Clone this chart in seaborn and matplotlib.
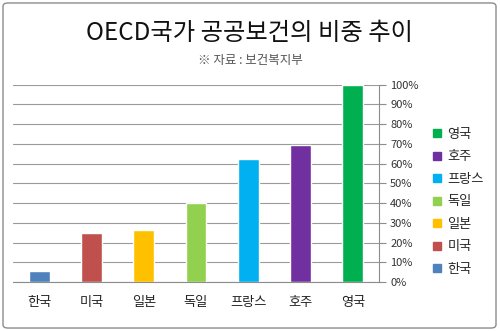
import matplotlib
matplotlib.use("Agg")
import matplotlib.pyplot as plt
import seaborn as sns
import pandas as pd
from matplotlib.lines import Line2D
from matplotlib.patches import FancyBboxPatch
from matplotlib.ticker import FuncFormatter, MultipleLocator

# Share of public health spending by country (%)
countries = ["한국", "미국", "일본", "독일", "프랑스", "호주", "영국"]
shares = [5.4, 24.7, 26.2, 40.0, 62.3, 69.6, 100.0]
colors = ["#4F81BD", "#C0504D", "#FFC000", "#92D050", "#00B0F0", "#7030A0", "#00B050"]
title = "OECD국가 공공보건의 비중 추이"
subtitle = "※ 자료 : 보건복지부"

sns.set_style("white")
plt.rcParams["font.family"] = ["Noto Sans CJK KR", "DejaVu Sans"]

df = pd.DataFrame({"country": countries, "share": shares})

fig = plt.figure(figsize=(5, 3.31), dpi=100)
ax = fig.add_axes([0.026, 0.148, 0.732, 0.596])

sns.barplot(data=df, x="country", y="share", hue="country", order=countries,
            hue_order=countries, palette=colors, width=0.4, dodge=False,
            legend=False, saturation=1, ax=ax)

ax.set_ylim(0, 100)
ax.set_xlim(-0.5, len(countries) - 0.5)
ax.yaxis.set_major_locator(MultipleLocator(10))
ax.yaxis.set_major_formatter(FuncFormatter(lambda v, _: f"{v:.0f}%"))
ax.yaxis.tick_right()
ax.set_xlabel("")
ax.set_ylabel("")
ax.grid(axis="y", color="#9a9a9a", linewidth=0.8)
ax.set_axisbelow(True)

for side in ["top", "left"]:
    ax.spines[side].set_visible(False)
for side in ["right", "bottom"]:
    ax.spines[side].set_color("#8c8c8c")
    ax.spines[side].set_linewidth(0.8)

# Category separators as ticks on the x axis
ax.set_xticks(range(len(countries)))
ax.set_xticklabels(countries, fontsize=9.5, color="#222222")
ax.tick_params(axis="x", length=0, pad=10)
ax.set_xticks([i - 0.5 for i in range(len(countries) + 1)], minor=True)
ax.tick_params(axis="x", which="minor", length=5, color="#8c8c8c", width=0.8)
ax.tick_params(axis="y", which="major", right=True, length=5, color="#8c8c8c",
               width=0.8, labelsize=8, labelcolor="#333333", pad=3)

# Legend listed from the tallest bar down
handles = [Line2D([0], [0], marker="s", linestyle="", markersize=6,
                  markerfacecolor=c, markeredgecolor=c)
           for c in colors[::-1]]
fig.legend(handles, countries[::-1], loc="center left",
           bbox_to_anchor=(0.855, 0.39), frameon=False, fontsize=9.5,
           handlelength=0.6, handletextpad=0.5, labelspacing=0.72,
           borderaxespad=0)

fig.text(0.5, 0.90, title, ha="center", va="center", fontsize=17.5, color="#111111")
fig.text(0.5, 0.818, subtitle, ha="center", va="center", fontsize=9, color="#555555")

# Outer chart frame
fig.patches.append(FancyBboxPatch((0.006, 0.009), 0.986, 0.982,
                                  boxstyle="round,pad=0,rounding_size=0.01",
                                  transform=fig.transFigure, fill=False,
                                  edgecolor="#8c8c8c", linewidth=1.0))

fig.savefig("out.png", dpi=100, facecolor="white")
